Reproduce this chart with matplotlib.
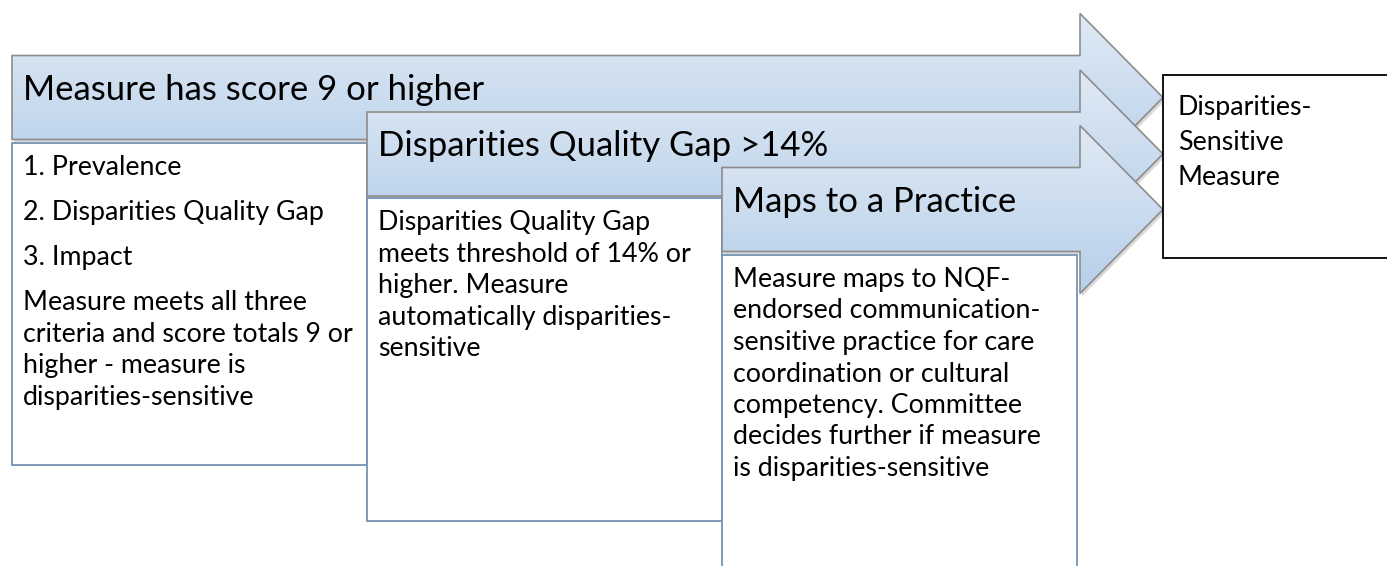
import matplotlib.pyplot as plt
import numpy as np
from matplotlib.patches import Polygon, Rectangle

# step titles (arrow headers)
step_titles = ["Measure has score 9 or higher",
               "Disparities Quality Gap >14%",
               "Maps to a Practice"]

# body text of each step: list of paragraphs, each a list of lines
step_bodies = [
    [["1. Prevalence"],
     ["2. Disparities Quality Gap"],
     ["3. Impact"],
     ["Measure meets all three", "criteria and score totals 9 or",
      "higher - measure is", "disparities-sensitive"]],
    [["Disparities Quality Gap", "meets threshold of 14% or",
      "higher. Measure", "automatically disparities-", "sensitive"]],
    [["Measure maps to NQF-", "endorsed communication-",
      "sensitive practice for care", "coordination or cultural",
      "competency. Committee", "decides further if measure",
      "is disparities-sensitive"]],
]

result_lines = ["Disparities-", "Sensitive", "Measure"]

# layout (pixel coordinates, y downwards)
W, H = 1387, 566
arrow_x0 = [12, 367, 722]
arrow_cy = [97.5, 154, 209.5]
shaft_half = 42
head_half = 84
head_x, tip_x = 1080, 1163
box_top = [143, 198, 255]
box_bottom = [465, 521, 580]
box_right = [367, 722, 1077]

FONT = ["Lato", "DejaVu Sans"]
TITLE_SIZE = 25
BODY_SIZE = 19.3
LINE_STEP = 31.5
PARA_STEP = 45

top_col = np.array([0xE0, 0xEA, 0xF5]) / 255
bot_col = np.array([0xB6, 0xCF, 0xE9]) / 255
edge_col = "#8C8C8C"
box_edge = "#7393B5"

fig = plt.figure(figsize=(W / 100, H / 100), dpi=100)
ax = fig.add_axes([0, 0, 1, 1])
ax.set_xlim(0, W)
ax.set_ylim(H, 0)
ax.axis("off")

grad = np.linspace(0, 1, 256)[:, None, None]
grad_img = top_col * (1 - grad) + bot_col * grad

for i in range(3):
    x0, cy = arrow_x0[i], arrow_cy[i]
    pts = [(x0, cy - shaft_half), (head_x, cy - shaft_half),
           (head_x, cy - head_half), (tip_x, cy),
           (head_x, cy + head_half), (head_x, cy + shaft_half),
           (x0, cy + shaft_half)]
    # soft shadow
    shadow = Polygon([(px + 2, py + 3) for px, py in pts], closed=True,
                     facecolor="#000000", alpha=0.15, edgecolor="none",
                     zorder=3 * i + 1)
    ax.add_patch(shadow)
    arrow = Polygon(pts, closed=True, facecolor="none", edgecolor=edge_col,
                    linewidth=1.2, zorder=3 * i + 1.2)
    ax.add_patch(arrow)
    im = ax.imshow(grad_img, extent=(x0, tip_x, cy + head_half, cy - head_half),
                   origin="upper", aspect="auto", zorder=3 * i + 1.1,
                   interpolation="bilinear")
    im.set_clip_path(arrow)
    ax.text(x0 + 11, cy + 2, step_titles[i], fontsize=TITLE_SIZE,
            family=FONT, va="baseline", ha="left", color="black",
            zorder=3 * i + 1.3)

    # description box
    bx = Rectangle((x0, box_top[i]), box_right[i] - x0,
                   box_bottom[i] - box_top[i], facecolor="white",
                   edgecolor=box_edge, linewidth=1.3, zorder=3 * i + 2)
    ax.add_patch(bx)
    y = box_top[i] + 32
    for paragraph in step_bodies[i]:
        for j, line in enumerate(paragraph):
            ax.text(x0 + 11, y, line, fontsize=BODY_SIZE, family=FONT,
                    va="baseline", ha="left", color="black",
                    zorder=3 * i + 2.1)
            y += LINE_STEP if j < len(paragraph) - 1 else 0
        y += PARA_STEP

ax.add_patch(Rectangle((1163, 75), 240, 183, facecolor="white",
                       edgecolor="black", linewidth=1.3, zorder=20))
for k, line in enumerate(result_lines):
    ax.text(1178, 115 + 35 * k, line, fontsize=BODY_SIZE, family=FONT,
            va="baseline", ha="left", color="black", zorder=21)

ax.set_xlim(0, W)
ax.set_ylim(H, 0)
fig.savefig("out.png", dpi=100)
